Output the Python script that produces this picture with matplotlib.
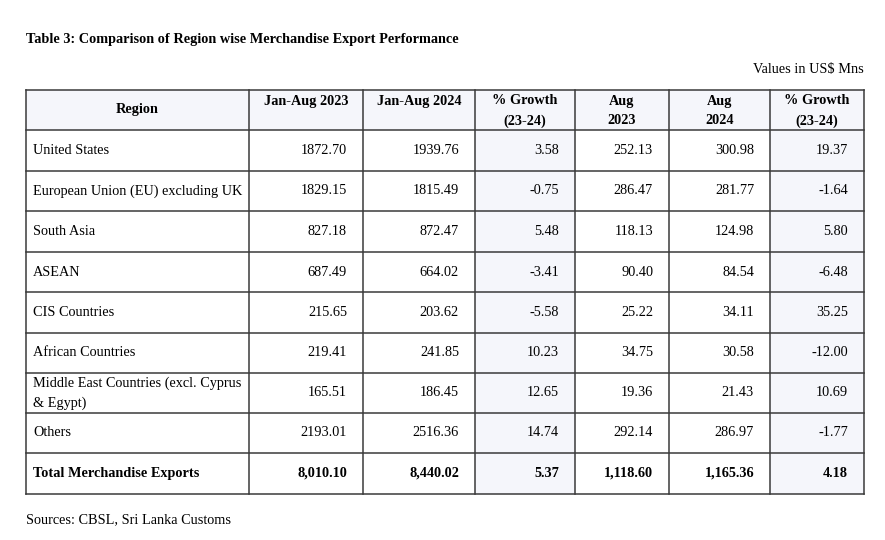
import matplotlib
matplotlib.use("Agg")
import matplotlib.pyplot as plt
from matplotlib.patches import Rectangle

plt.rcParams["font.family"] = ["Liberation Serif", "DejaVu Serif"]

# Table data
regions = [
    "United States",
    "European Union (EU) excluding UK",
    "South Asia",
    "ASEAN",
    "CIS Countries",
    "African Countries",
    "Middle East Countries (excl. Cyprus\n& Egypt)",
    "Others",
]
jan_aug_2023 = [1872.70, 1829.15, 827.18, 687.49, 215.65, 219.41, 165.51, 2193.01]
jan_aug_2024 = [1939.76, 1815.49, 872.47, 664.02, 203.62, 241.85, 186.45, 2516.36]
growth_ytd = [3.58, -0.75, 5.48, -3.41, -5.58, 10.23, 12.65, 14.74]
aug_2023 = [252.13, 286.47, 118.13, 90.40, 25.22, 34.75, 19.36, 292.14]
aug_2024 = [300.98, 281.77, 124.98, 84.54, 34.11, 30.58, 21.43, 286.97]
growth_aug = [19.37, -1.64, 5.80, -6.48, 35.25, -12.00, 10.69, -1.77]

total_label = "Total Merchandise Exports"
totals = [8010.10, 8440.02, 5.37, 1118.60, 1165.36, 4.18]

headers = ["Region", "Jan-Aug 2023", "Jan-Aug 2024", "% Growth\n(23-24)",
           "Aug\n2023", "Aug\n2024", "% Growth\n(23-24)"]

title = "Table 3: Comparison of Region wise Merchandise Export Performance"
unit_note = "Values in US$ Mns"
source_note = "Sources: CBSL, Sri Lanka Customs"

# layout (pixel coordinates)
col_edges = [26, 249, 363, 475, 575, 669, 770, 864]
row_edges = [90, 130, 171, 211, 252, 292, 333, 373, 413, 453, 494]
tint_cols = [3, 6]
tint = "#f5f6fb"
line_color = "#3a3a3a"
fs = 10.3

fig = plt.figure(figsize=(8.85, 5.4), dpi=100)
ax = fig.add_axes([0, 0, 1, 1])
ax.set_xlim(0, 885)
ax.set_ylim(540, 0)
ax.axis("off")

# backgrounds
ax.add_patch(Rectangle((col_edges[0], row_edges[0]), col_edges[-1] - col_edges[0],
                       row_edges[1] - row_edges[0], color=tint, lw=0, zorder=0))
for c in tint_cols:
    ax.add_patch(Rectangle((col_edges[c], row_edges[1]), col_edges[c + 1] - col_edges[c],
                           row_edges[-1] - row_edges[1], color=tint, lw=0, zorder=0))

# grid lines
for x in col_edges:
    ax.plot([x, x], [row_edges[0], row_edges[-1]], color=line_color, lw=1.1, zorder=2)
for y in row_edges:
    ax.plot([col_edges[0], col_edges[-1]], [y, y], color=line_color, lw=1.1, zorder=2)

# header
hy0, hy1 = row_edges[0], row_edges[1]
for i, h in enumerate(headers):
    xc = (col_edges[i] + col_edges[i + 1]) / 2
    if i == 0:
        ax.text(xc, (hy0 + hy1) / 2, h, ha="center", va="center", fontsize=fs, fontweight="bold")
    else:
        for k, part in enumerate(h.split("\n")):
            ax.text(xc, hy0 + 11 + k * 20, part, ha="center", va="center",
                    fontsize=fs, fontweight="bold")

# body
pad = 16
cols = [jan_aug_2023, jan_aug_2024, growth_ytd, aug_2023, aug_2024, growth_aug]
for r, name in enumerate(regions):
    yc = (row_edges[r + 1] + row_edges[r + 2]) / 2
    parts = name.split("\n")
    for k, part in enumerate(parts):
        ax.text(col_edges[0] + 7, yc + (k - (len(parts) - 1) / 2) * 20, part,
                ha="left", va="center", fontsize=fs)
    for c, vals in enumerate(cols):
        ax.text(col_edges[c + 2] - pad, yc, f"{vals[r]:.2f}", ha="right", va="center", fontsize=fs)

# total row
yc = (row_edges[-2] + row_edges[-1]) / 2
ax.text(col_edges[0] + 7, yc, total_label, ha="left", va="center", fontsize=fs, fontweight="bold")
for c, v in enumerate(totals):
    ax.text(col_edges[c + 2] - pad, yc, f"{v:,.2f}", ha="right", va="center",
            fontsize=fs, fontweight="bold")

ax.text(26, 40, title, ha="left", va="center", fontsize=fs, fontweight="bold")
ax.text(864, 70, unit_note, ha="right", va="center", fontsize=fs)
ax.text(26, 520, source_note, ha="left", va="center", fontsize=fs)

fig.savefig("out.png", dpi=100, facecolor="white")
